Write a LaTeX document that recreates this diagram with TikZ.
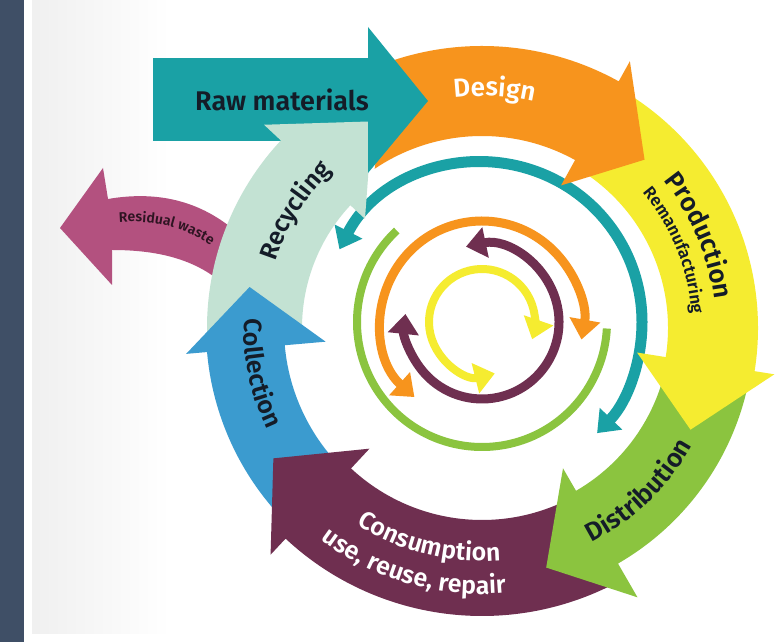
\documentclass[tikz,border=0pt]{standalone}
\usepackage{fontspec}
\setmainfont{Fira Sans}[BoldFont={* SemiBold}]
\usetikzlibrary{arrows.meta,decorations.text}
\definecolor{barc}{HTML}{3F4F66}
\definecolor{tealc}{HTML}{1AA1A5}
\definecolor{orangec}{HTML}{F7941D}
\definecolor{yellowc}{HTML}{F5EC30}
\definecolor{greenc}{HTML}{8BC43F}
\definecolor{maroonc}{HTML}{6F2F50}
\definecolor{bluec}{HTML}{3B9BCF}
\definecolor{mintc}{HTML}{C3E2D3}
\definecolor{pinkc}{HTML}{B3517F}
\definecolor{inkc}{HTML}{141C28}
\definecolor{pinkink}{HTML}{2E1422}
% #1 colour, #2 tail angle, #3 head-base angle, #4 tip angle, #5 inner r, #6 outer r, #7 inner barb r, #8 outer barb r, #9 tip r
\newcommand\ringarrow[9]{%
  \fill[#1] ([shift={(C)}]#2:#5) arc[start angle=#2, end angle=#3, radius=#5]
    -- ([shift={(C)}]#3:#7) -- ([shift={(C)}]#4:#9) -- ([shift={(C)}]#3:#8)
    -- ([shift={(C)}]#3:#6) arc[start angle=#3, end angle=#2, radius=#6] -- cycle;}
% #1 radius, #2 start, #3 end, #4 size, #5 colour, #6 text
\newcommand\arctext[6]{%
  \path[decorate, decoration={text along path, text align=center, text color=#5,
    text={|\fontsize{#4}{#4}\selectfont\bfseries|#6}}]
    ([shift={(C)}]#2:#1) arc[start angle=#2, end angle=#3, radius=#1];}
\tikzset{
  inarc/.style={line width=#1},
  tipboth/.style={{Triangle[width=30pt,length=20pt]}-{Triangle[width=30pt,length=20pt]}}
}
\begin{document}
\begin{tikzpicture}[x=1pt,y=1pt]
\useasboundingbox (0,0) rectangle (782,642);
% background
\fill[white] (0,0) rectangle (782,642);
\fill[barc] (0,0) rectangle (24,642);
\shade[left color=black!6, right color=white] (32,8) rectangle (170,642);
\fill[white] (170,8) rectangle (782,642);
\coordinate (C) at (482,314);
\coordinate (Ci) at (482,320);
% inner arcs
\draw[greenc, inarc=8pt] ([shift={(Ci)}]133:125) arc[start angle=133, end angle=357, radius=125];
\draw[tealc, inarc=11pt, tipboth] ([shift={(Ci)}]153:160) arc[start angle=153, end angle=-44, radius=160];
\draw[orangec, inarc=9pt, tipboth] ([shift={(Ci)}]228:101) arc[start angle=228, end angle=-10, radius=101];
\draw[maroonc, inarc=9pt, tipboth] ([shift={(Ci)}]102:77) arc[start angle=102, end angle=-186, radius=77];
\draw[yellowc, inarc=8pt, tipboth] ([shift={(Ci)}]284:53) arc[start angle=284, end angle=-19, radius=53];
% raw materials body
\fill[tealc] (153,501) rectangle (369,584);
% residual waste
\fill[pinkc] (60,414) -- (103,474) -- (108,443) .. controls (160,452) and (205,440) .. (242,405)
  -- (236,345) .. controls (205,382) and (160,392) .. (112,392) -- (112,357) -- cycle;
% ring
\ringarrow{mintc}{183}{137}{118}{180}{275}{160}{298}{234}
\ringarrow{bluec}{-128}{-175}{-190}{198}{276}{157}{297}{236}
\ringarrow{maroonc}{-62}{-133}{-148}{192}{288}{165}{310}{246}
\ringarrow{greenc}{-5}{-60}{-75}{188}{272}{162}{311}{248}
\ringarrow{yellowc}{60}{-9}{-26}{186}{276}{157}{296}{232}
\fill[orangec] ([shift={(C)}]124:192) arc[start angle=124, end angle=61, radius=192]
  -- ([shift={(C)}]61:163) -- ([shift={(C)}]46:234) -- ([shift={(C)}]61:305)
  -- ([shift={(C)}]61:282) arc[start angle=61, end angle=109, radius=282] -- cycle;
% raw materials head
\fill[tealc] (368,615) -- (428,541) -- (368,469) -- cycle;
% texts
\node[font=\fontsize{27}{27}\selectfont\bfseries, text=inkc] (rawtxt) at (282,542) {Raw materials};
\arctext{232}{117}{57}{26}{white}{Design}
\arctext{234}{58}{-12}{26}{inkc}{Production}
\arctext{210}{62}{-18}{17}{inkc}{Remanufacturing}
\arctext{241}{-86}{-6}{26}{inkc}{Distribution}
\arctext{233}{-144}{-64}{25}{white}{Consumption}
\arctext{266}{-156}{-56}{25}{white}{use, reuse, repair}
\arctext{238}{156}{227}{25}{inkc}{Collection}
\arctext{217}{183}{113}{25}{inkc}{Recycling}
\path[decorate, decoration={text along path, text align=center, text color=pinkink,
  text={|\fontsize{14}{14}\selectfont\bfseries|Residual waste}}]
  (100,417) .. controls (144,425) and (189,418) .. (226,385);
\end{tikzpicture}
\end{document}
